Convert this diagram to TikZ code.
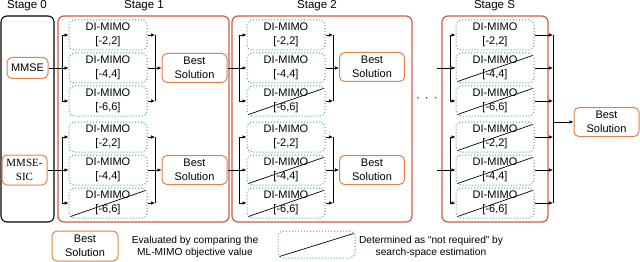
\documentclass[tikz,border=0pt]{standalone}
\usepackage{fontspec}
\setmainfont{Liberation Sans}
\newfontfamily\serifface{Liberation Serif}
\usetikzlibrary{arrows.meta}
\definecolor{bsorange}{RGB}{228,128,72}
\definecolor{stagered}{RGB}{206,92,70}
\definecolor{diteal}{RGB}{78,158,154}
\newcommand{\dinode}[4]{\node[dibox] (#1) at (#2,#3) {DI-MIMO\\{}[#4]};}
\newcommand{\crossbox}[1]{\draw[conn] ([xshift=2pt,yshift=2pt]#1.south west) -- ([xshift=-2pt,yshift=-3pt]#1.north east);}
\newcommand{\fanin}[2]{\draw[arr] (#1) |- (#21); \draw[arr] (#1) -- (#22); \draw[arr] (#1) |- (#23);}
\newcommand{\fanout}[3]{%
  \draw[arr] (#21.east) -- (#21.east -| #1);
  \draw[arr] (#23.east) -- (#23.east -| #1);
  \draw[conn] (#21.east -| #1) -- (#23.east -| #1);
  \draw[arr] (#22.east) -- (#3);}
\begin{document}
\begin{tikzpicture}[x=1pt,y=-1pt,
  font=\fontsize{11}{13.5}\selectfont,
  stagebox/.style={draw=stagered, line width=1.2pt, rounded corners=6pt, inner sep=0pt},
  dibox/.style={draw=diteal, dotted, line width=1pt, rounded corners=5pt, minimum width=78pt, minimum height=30pt, align=center, inner sep=0pt},
  bestbox/.style={draw=bsorange, line width=1pt, rounded corners=5pt, minimum width=65pt, minimum height=29pt, align=center, inner sep=0pt},
  conn/.style={line width=0.7pt},
  arr/.style={conn, -{Latex[length=4pt,width=3.6pt]}},
  stagelabel/.style={font=\fontsize{11.5}{13}\selectfont, inner sep=0pt}
]
\useasboundingbox (0,0) rectangle (640,262);

% stage frames
\node[draw=black, line width=1.1pt, rounded corners=6pt, inner sep=0pt, minimum width=53pt, minimum height=206pt] (st0) at (27.5,119) {};
\node[stagebox, minimum width=171pt, minimum height=206pt] (st1) at (143.5,119) {};
\node[stagebox, minimum width=180pt, minimum height=206pt] (st2) at (322,119) {};
\node[stagebox, minimum width=106pt, minimum height=206pt] (stS) at (495,119) {};

\node[stagelabel] (lab0) at (27,5.5) {Stage 0};
\node[stagelabel] (lab1) at (144,5.5) {Stage 1};
\node[stagelabel] (lab2) at (317,5.5) {Stage 2};
\node[stagelabel] (labS) at (494.5,5.5) {Stage S};

% stage 0
\node[bestbox, minimum width=41pt, minimum height=21pt] (mmse) at (27.5,68) {MMSE};
\node[bestbox, minimum width=45pt, minimum height=30pt, font=\serifface\fontsize{11}{13.5}\selectfont] (sic) at (24.5,170) {MMSE-\\SIC};

% stage 1
\dinode{s1a1}{108}{35}{-2,2}
\dinode{s1a2}{108}{68}{-4,4}
\dinode{s1a3}{108}{101}{-6,6}
\dinode{s1b1}{108}{137}{-2,2}
\dinode{s1b2}{108}{170}{-4,4}
\dinode{s1b3}{108}{203}{-6,6}
\node[bestbox] (b1a) at (194.5,68) {Best\\Solution};
\node[bestbox] (b1b) at (194.5,170) {Best\\Solution};

% stage 2
\dinode{s2a1}{286}{35}{-2,2}
\dinode{s2a2}{286}{68}{-4,4}
\dinode{s2a3}{286}{101}{-6,6}
\dinode{s2b1}{286}{137}{-2,2}
\dinode{s2b2}{286}{170}{-4,4}
\dinode{s2b3}{286}{203}{-6,6}
\node[bestbox] (b2a) at (372,67) {Best\\Solution};
\node[bestbox] (b2b) at (372,170) {Best\\Solution};

% stage S
\dinode{sSa1}{495}{35}{-2,2}
\dinode{sSa2}{495}{68}{-4,4}
\dinode{sSa3}{495}{101}{-6,6}
\dinode{sSb1}{495}{137}{-2,2}
\dinode{sSb2}{495}{170}{-4,4}
\dinode{sSb3}{495}{203}{-6,6}
\node[bestbox] (bfin) at (606.5,122) {Best\\Solution};

\node[inner sep=0pt, font=\fontsize{12}{13}\selectfont] (dots) at (427,100) {·\hspace{5pt}·\hspace{5pt}·};

% crossed boxes
\crossbox{s1b3}
\crossbox{s2a3}
\crossbox{s2b2}
\crossbox{s2b3}
\crossbox{sSa2}
\crossbox{sSa3}
\crossbox{sSb1}
\crossbox{sSb2}
\crossbox{sSb3}

% junction coordinates
\coordinate (s1aL) at (62,68);
\coordinate (s1bL) at (62,170);
\coordinate (s1aR) at (155,68);
\coordinate (s1bR) at (155,170);
\coordinate (s2aL) at (239,68);
\coordinate (s2bL) at (239,170);
\coordinate (s2aR) at (333,68);
\coordinate (s2bR) at (333,170);
\coordinate (sSin1) at (437,68);
\coordinate (sSin2) at (437,170);
\coordinate (sSaL) at (450,68);
\coordinate (sSbL) at (450,170);
\coordinate (sSR) at (553,122);

% stage 0 -> stage 1
\draw[conn] (mmse.east) -- (s1aL);
\draw[conn] (sic.east) -- (s1bL);
\fanin{s1aL}{s1a}
\fanin{s1bL}{s1b}
\fanout{s1aR}{s1a}{b1a}
\fanout{s1bR}{s1b}{b1b}

% stage 1 -> stage 2
\draw[conn] (b1a.east) -- (s2aL);
\draw[conn] (b1b.east) -- (s2bL);
\fanin{s2aL}{s2a}
\fanin{s2bL}{s2b}
\fanout{s2aR}{s2a}{b2a.west |- s2aR}
\fanout{s2bR}{s2b}{b2b}

% stage S
\draw[conn] (sSin1) -- (sSaL);
\draw[conn] (sSin2) -- (sSbL);
\fanin{sSaL}{sSa}
\fanin{sSbL}{sSb}
\foreach \n in {sSa1,sSa2,sSa3,sSb1,sSb2,sSb3}{
  \draw[arr] (\n.east) -- (\n.east -| sSR);
}
\draw[conn] (sSa1.east -| sSR) -- (sSb3.east -| sSR);
\draw[arr] (sSR) -- (bfin);

% legend
\node[bestbox, minimum width=66pt, minimum height=30pt] (legbest) at (85,246) {Best\\Solution};
\node[align=center, inner sep=0pt, font=\fontsize{10.2}{12.2}\selectfont] (legtxt1) at (195,247) {Evaluated by comparing the\\ML-MIMO objective value};
\node[dibox, minimum width=77pt, minimum height=27pt] (legdi) at (316.5,244.5) {};
\crossbox{legdi}
\node[align=center, inner sep=0pt, font=\fontsize{10.2}{12.2}\selectfont] (legtxt2) at (431,247) {Determined as “not required” by\\search-space estimation};
\end{tikzpicture}
\end{document}
